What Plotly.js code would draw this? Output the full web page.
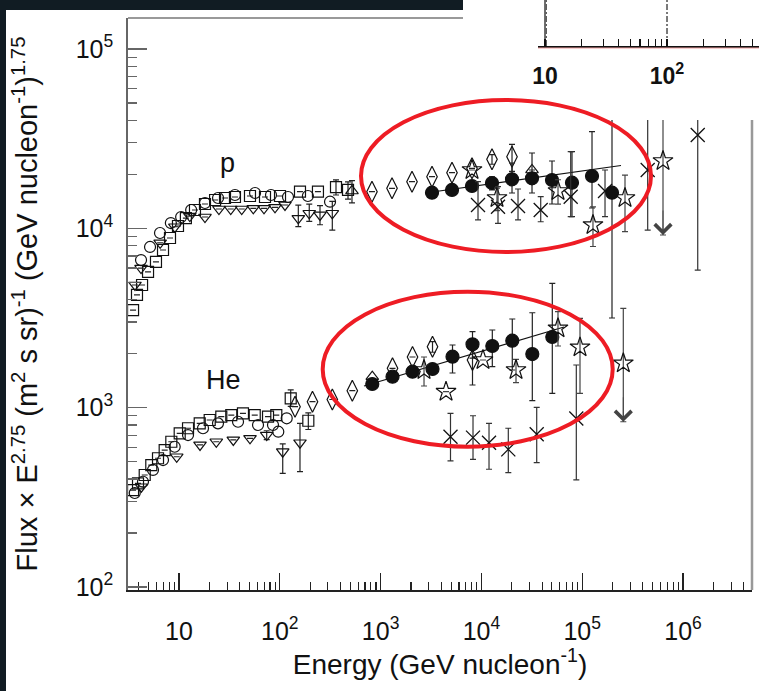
<!DOCTYPE html>
<html><head><meta charset="utf-8">
<script src="https://cdn.plot.ly/plotly-3.0.1.min.js"></script>
<style>html,body{margin:0;padding:0;background:#fff;}#chart{width:759px;height:691px;}</style>
</head><body><div id="chart"></div>
<script>
// ---------------- Proton data ----------------
const pSqE = [3.5, 3.83, 4.3, 4.93, 5.91, 6.94, 8.14, 9.77, 11.7, 14.4, 18.1, 22.8, 28.6, 35.9, 50.6, 71.3, 100.5, 158.6, 239, 361, 475];
const pSqF = [3500, 4250, 4830, 5710, 6490, 7570, 8830, 10300, 11400, 12650, 13660, 14380, 14760, 14950, 15140, 14950, 15140, 16000, 16000, 16990, 16360];
const pSqErr = [0,0,0,0,0,0,0,0,0,0,0,0,0,0,0,0,0,0,0,1650,1800];

const pCirE = [4.2, 5.16, 6.48, 8.3, 10.5, 13.2, 18.1, 24.4, 35.9, 56.8, 81.8, 120.6, 190, 315];
const pCirF = [6650, 7870, 9415, 10700, 11560, 12650, 13840, 14760, 15340, 15740, 15340, 14950, 15140, 14070];

const pTriE = [3.66, 4.2, 6.5, 9.1, 12.8, 18.1, 24.9, 32.6, 41.9, 54.6, 69.7, 89.6, 112.6, 152.6, 196, 250.5, 331.8];
const pTriF = [4830, 6000, 8300, 10200, 11700, 11560, 12810, 12810, 12810, 12930, 12930, 13090, 13490, 11370, 12130, 11870, 12130];
const pTriErrP = [0,0,0,0,0,0,0,0,0,0,0,0,0,2100,1500,1500,2000];
const pTriErrM = [0,0,0,0,0,0,0,0,0,0,0,0,0,1160,1200,1400,2350];

const pTriUpE = [520, 31770];
const pTriUpF = [16150, 21150];
const pTriUpErr = [2300, 0];

const pDiaE = [821, 1298, 2049, 3236, 5109, 8067, 12740, 20120];
const pDiaF = [16000, 16720, 18190, 19400, 20420, 21610, 24260, 25080];
const pDiaErr = [0, 0, 0, 0, 0, 0, 1500, 4300];

const pFillE = [3236, 5109, 8067, 12740, 20120, 31770, 50170, 79200, 125100, 197500];
const pFillF = [15800, 16360, 17220, 17890, 18760, 19000, 18600, 17960, 19570, 15800];
const pFillErrP = [700, 800, 1000, 1500, 4370, 7300, 5140, 8790, 15010, 40000];
const pFillErrM = [700, 800, 1000, 1530, 3020, 3260, 4940, 6350, 6590, 12640];

const pFitE = [2760, 242600];
const pFitF = [15740, 22400];

const pStarE = [8067, 14280, 57540, 127900, 265800, 633300];
const pStarF = [21150, 14760, 16150, 10430, 14760, 23740];
const pStarErrP = [0, 2000, 2500, 2750, 5050, 40000];
const pStarErrM = [0, 2200, 2500, 2515, 5180, 14565];

const pXE = [9254, 14610, 23080, 38760, 76900, 168400, 446400, 1400000];
const pXF = [13490, 13200, 13310, 12650, 15010, 16150, 21150, 33150];
const pXErrP = [4700, 3860, 3260, 2360, 11740, 5000, 40000, 60000];
const pXErrM = [2360, 2540, 2180, 1770, 3400, 4540, 11370, 27300];

// ---------------- Helium data ----------------
const heSqE = [3.5, 3.92, 4.57, 5.31, 6.19, 7.21, 8.39, 10.16, 12.29, 16.05, 20.16, 26.28, 33.0, 43.1, 56.4, 76.4, 92.3, 128.3, 191.8];
const heSqF = [347, 378, 421, 478, 522, 580, 645, 719, 767, 817, 853, 890, 909, 929, 909, 890, 909, 1127, 845];
const heSqErrP = [0,0,0,0,0,0,0,0,0,0,0,0,0,0,0,0,0,130,90];
const heSqErrM = [0,0,0,0,0,0,0,0,0,0,0,0,0,0,0,0,0,110,90];

const heCirE = [3.64, 4.39, 5.52, 6.94, 9.06, 12.29, 17.3, 24.37, 38.5, 60.8, 85.6, 96.6, 117.1];
const heCirF = [334, 386, 449, 510, 605, 703, 767, 817, 834, 800, 800, 734, 872];

const heTriE = [4.23, 9.49, 16.16, 23.44, 34.57, 50.63, 74.13, 106.9, 158.6];
const heTriF = [362, 532, 619, 645, 660, 674, 703, 568, 637];
const heTriErrP = [0,0,0,0,0,0,40,60,180];
const heTriErrM = [0,0,0,0,0,0,40,138,198];

const heTriUpE = [827];
const heTriUpF = [1487];

const heDiaE = [141.6, 211, 332, 524, 1313, 2073, 3273, 8160];
const heDiaF = [1012, 1079, 1110, 1243, 1657, 1915, 2186, 1843];
const heDiaErrP = [0,0,0,0,0,0,150,343];
const heDiaErrM = [0,0,0,0,0,0,150,506];

const heFillE = [827, 1313, 2073, 3273, 5168, 8160, 12830, 20250, 31990, 50510];
const heFillF = [1354, 1487, 1586, 1642, 1923, 2255, 2206, 2361, 1990, 2476];
const heFillErrP = [50, 60, 80, 100, 312, 396, 504, 760, 1392, 2458];
const heFillErrM = [50, 60, 80, 100, 363, 365, 515, 740, 897, 1275];

const heFitE = [684, 65970];
const heFitF = [1320, 2815];

const heStarE = [2696, 4455, 10370, 22040, 57520, 95100, 255700];
const heStarF = [1621, 1227, 1843, 1621, 2769, 2169, 1767];
const heStarErrP = [294, 0, 0, 239, 657, 980, 1813];
const heStarErrM = [301, 0, 0, 244, 563, 968, 933];

const heXE = [4937, 8255, 11900, 18490, 35370, 87400];
const heXF = [688, 680, 637, 585, 710, 870];
const heXErrP = [241, 221, 180, 182, 294, 858];
const heXErrM = [184, 165, 184, 151, 217, 475];

// ---------------- Axis ticks ----------------
const xTickVals = [10, 100, 1e3, 1e4, 1e5, 1e6];
const xTickText = ['10', '10<sup>2</sup>', '10<sup>3</sup>', '10<sup>4</sup>', '10<sup>5</sup>', '10<sup>6</sup>'];
const yTickVals = [100, 1e3, 1e4, 1e5];
const yTickText = ['10<sup>2</sup>', '10<sup>3</sup>', '10<sup>4</sup>', '10<sup>5</sup>'];
const insetTickVals = [10, 100];
const insetTickText = ['10', '10<sup>2</sup>'];

function minorList(k0, k1) {
  const out = [];
  for (let k = k0; k <= k1; k++) for (let m = 2; m <= 9; m++) out.push(m * Math.pow(10, k));
  return out;
}

const FONT = 'Liberation Sans, Arial, Helvetica, sans-serif';
const traces = [];

function errObj(plus, minus, color) {
  if (!plus) return {visible: false};
  return {type: 'data', symmetric: false, array: plus, arrayminus: minus || plus,
          thickness: 1.2, width: 3, color: color || '#222'};
}
function add(E, F, symbol, size, opts) {
  opts = opts || {};
  traces.push({
    type: 'scatter', mode: 'markers', x: E, y: F, xaxis: 'x', yaxis: 'y',
    cliponaxis: true, hoverinfo: 'skip',
    marker: {symbol: symbol, size: size, color: opts.fill || '#111',
             line: {color: '#111', width: opts.lw || 1.2}},
    error_y: errObj(opts.ep, opts.em, opts.ecolor)
  });
}
function fit(E, F) {
  traces.push({type: 'scatter', mode: 'lines', x: E, y: F, xaxis: 'x', yaxis: 'y',
    hoverinfo: 'skip', line: {color: '#111', width: 1.2}});
}

// proton
add(pSqE, pSqF, 'square-open', 11, {ep: pSqErr});
add(pCirE, pCirF, 'circle-open', 11);
add(pTriE, pTriF, 'triangle-down-open', 11, {ep: pTriErrP, em: pTriErrM});
add(pTriUpE, pTriUpF, 'triangle-up-open', 11, {ep: pTriUpErr});
add(pDiaE, pDiaF, 'diamond-tall-open', 15, {ep: pDiaErr});
fit(pFitE, pFitF);
add(pFillE, pFillF, 'circle', 13, {ep: pFillErrP, em: pFillErrM});
add(pStarE, pStarF, 'star-open', 15, {ep: pStarErrP, em: pStarErrM, ecolor: '#444'});
add(pXE, pXF, 'x-thin-open', 14, {lw: 1.3, ep: pXErrP, em: pXErrM, ecolor: '#333'});
// helium
add(heSqE, heSqF, 'square-open', 11, {ep: heSqErrP, em: heSqErrM});
add(heCirE, heCirF, 'circle-open', 11);
add(heTriE, heTriF, 'triangle-down-open', 11, {ep: heTriErrP, em: heTriErrM});
add(heTriUpE, heTriUpF, 'triangle-up-open', 11);
add(heDiaE, heDiaF, 'diamond-tall-open', 15, {ep: heDiaErrP, em: heDiaErrM});
fit(heFitE, heFitF);
add(heFillE, heFillF, 'circle', 13, {ep: heFillErrP, em: heFillErrM});
add(heStarE, heStarF, 'star-open', 15, {ep: heStarErrP, em: heStarErrM, ecolor: '#444'});
add(heXE, heXF, 'x-thin-open', 14, {lw: 1.3, ep: heXErrP, em: heXErrM, ecolor: '#333'});

// white overlay (pasted inset image region)
traces.push({type: 'scatter', mode: 'lines', x: [0, 1, 1, 0, 0], y: [0, 0, 1, 1, 0],
  xaxis: 'x2', yaxis: 'y2', fill: 'toself', fillcolor: '#ffffff', line: {width: 0, color: '#fff'},
  hoverinfo: 'skip'});
// inset vertical lines
traces.push({type: 'scatter', mode: 'lines', x: [10, 10], y: [0, 1], xaxis: 'x3', yaxis: 'y3',
  line: {color: '#222', width: 1.3}, hoverinfo: 'skip'});
traces.push({type: 'scatter', mode: 'lines', x: [10.25, 10.25], y: [0, 1], xaxis: 'x3', yaxis: 'y3',
  line: {color: '#444', width: 1.1, dash: '6px,2px,2px,2px'}, hoverinfo: 'skip'});
traces.push({type: 'scatter', mode: 'lines', x: [100, 100], y: [0, 1], xaxis: 'x3', yaxis: 'y3',
  line: {color: '#333', width: 1.3, dash: '6px,2px,2px,2px'}, hoverinfo: 'skip'});

// upper-limit arrows (tip at value minus lower error)
const ulList = [
  [pStarE[pStarE.length - 1], pStarF[pStarF.length - 1] - pStarErrM[pStarErrM.length - 1]],
  [heStarE[heStarE.length - 1], heStarF[heStarF.length - 1] - heStarErrM[heStarErrM.length - 1]]
];
const annotations = ulList.map(function (d) {
  return {x: Math.log10(d[0]), y: Math.log10(d[1]), xref: 'x', yref: 'y', text: '',
    showarrow: true, arrowhead: 4, arrowsize: 4.0, arrowwidth: 0.8, arrowcolor: '#444',
    ax: 0, ay: -26, standoff: 0};
});
annotations.push({xref: 'paper', yref: 'paper', x: 0.1569, y: 0.7237, text: 'p', showarrow: false,
  font: {family: FONT, size: 27, color: '#111'}, xanchor: 'center', yanchor: 'middle'});
annotations.push({xref: 'paper', yref: 'paper', x: 0.1506, y: 0.3559, text: 'He', showarrow: false,
  font: {family: FONT, size: 27, color: '#111'}, xanchor: 'center', yanchor: 'middle'});

function pxX(px) { return (px - 128) / 631; }
function pxY(py) { return (590 - py) / 590; }
const DARK = '#111c23';
const shapes = [
  {type: 'rect', xref: 'paper', yref: 'paper', x0: pxX(0), x1: pxX(463), y0: pxY(10), y1: pxY(0),
   fillcolor: DARK, line: {width: 0}, layer: 'above'},
  {type: 'rect', xref: 'paper', yref: 'paper', x0: pxX(0), x1: pxX(6), y0: pxY(691), y1: pxY(0),
   fillcolor: DARK, line: {width: 0}, layer: 'above'},
  {type: 'line', xref: 'paper', yref: 'paper', x0: pxX(128), x1: pxX(463), y0: pxY(18), y1: pxY(18),
   line: {color: '#777', width: 1.5}, layer: 'above'},
  {type: 'line', xref: 'paper', yref: 'paper', x0: pxX(752), x1: pxX(752), y0: pxY(590), y1: pxY(120),
   line: {color: '#999', width: 2.5}, layer: 'above'},
  {type: 'line', xref: 'paper', yref: 'paper', x0: pxX(538), x1: pxX(759), y0: pxY(48), y1: pxY(48),
   line: {color: '#f0a0a0', width: 1.2}, layer: 'above'},
  {type: 'circle', xref: 'paper', yref: 'paper', x0: pxX(361), x1: pxX(651), y0: pxY(252), y1: pxY(100),
   line: {color: '#ee1c24', width: 4}, layer: 'above'},
  {type: 'circle', xref: 'paper', yref: 'paper', x0: pxX(322.7), x1: pxX(612.7), y0: pxY(446.7), y1: pxY(291.7),
   line: {color: '#ee1c24', width: 4}, layer: 'above'}
];

const layout = {
  width: 759, height: 691,
  margin: {l: 128, r: 0, t: 0, b: 101, pad: 0},
  paper_bgcolor: '#ffffff', plot_bgcolor: '#ffffff',
  showlegend: false, hovermode: false,
  font: {family: FONT, color: '#111'},
  xaxis: {
    type: 'log', range: [0.494, 6.6845], domain: [0, 624 / 631], anchor: 'y',
    showline: true, linecolor: '#222', linewidth: 1.5, showgrid: false, zeroline: false,
    ticks: 'inside', ticklen: 17, tickwidth: 1.2, tickcolor: '#222',
    tickmode: 'array', tickvals: xTickVals, ticktext: xTickText,
    tickfont: {family: FONT, size: 25, color: '#111'}, ticklabelstandoff: 18,
    minor: {ticks: 'inside', ticklen: 8, tickwidth: 1.1, tickcolor: '#222', tickvals: minorList(0, 6)},
    title: {text: 'Energy (GeV nucleon<sup>-1</sup>)', font: {family: FONT, size: 28, color: '#111'}, standoff: 10}
  },
  yaxis: {
    type: 'log', range: [1.9828, 5.1729], domain: [0, 572 / 590], anchor: 'x',
    showline: true, linecolor: '#666', linewidth: 1.8, showgrid: false, zeroline: false,
    ticks: 'inside', ticklen: 19, tickwidth: 1.3, tickcolor: '#666',
    tickmode: 'array', tickvals: yTickVals, ticktext: yTickText,
    tickfont: {family: FONT, size: 25, color: '#111'}, ticklabelstandoff: 8,
    minor: {ticks: 'inside', ticklen: 9, tickwidth: 1.2, tickcolor: '#666', tickvals: minorList(2, 5)},
    title: {text: 'Flux \u00d7 E<sup>2.75</sup> (m<sup>2</sup> s sr)<sup>-1</sup> (GeV nucleon<sup>-1</sup>)<sup>1.75</sup>',
            font: {family: FONT, size: 29, color: '#111'}, standoff: 29}
  },
  xaxis2: {domain: [pxX(463), 1], range: [0, 1], visible: false, anchor: 'y2', fixedrange: true},
  yaxis2: {domain: [pxY(120), 1], range: [0, 1], visible: false, anchor: 'x2', fixedrange: true},
  xaxis3: {
    type: 'log', domain: [pxX(538), 1], range: [0.9426, 2.754], anchor: 'y3',
    showline: true, linecolor: '#111', linewidth: 1.5, showgrid: false, zeroline: false,
    ticks: 'inside', ticklen: 7, tickwidth: 1.2, tickcolor: '#111',
    tickmode: 'array', tickvals: insetTickVals, ticktext: insetTickText,
    tickfont: {family: FONT, size: 23, color: '#111', weight: 'bold'}, ticklabelstandoff: 9,
    minor: {ticks: 'inside', ticklen: 7, tickwidth: 1.2, tickcolor: '#111', tickvals: minorList(1, 2)}
  },
  yaxis3: {domain: [pxY(46), 1], range: [0, 1], visible: false, anchor: 'x3', fixedrange: true},
  shapes: shapes,
  annotations: annotations
};

Plotly.newPlot('chart', traces, layout, {staticPlot: true, displayModeBar: false});
</script>
</body></html>
